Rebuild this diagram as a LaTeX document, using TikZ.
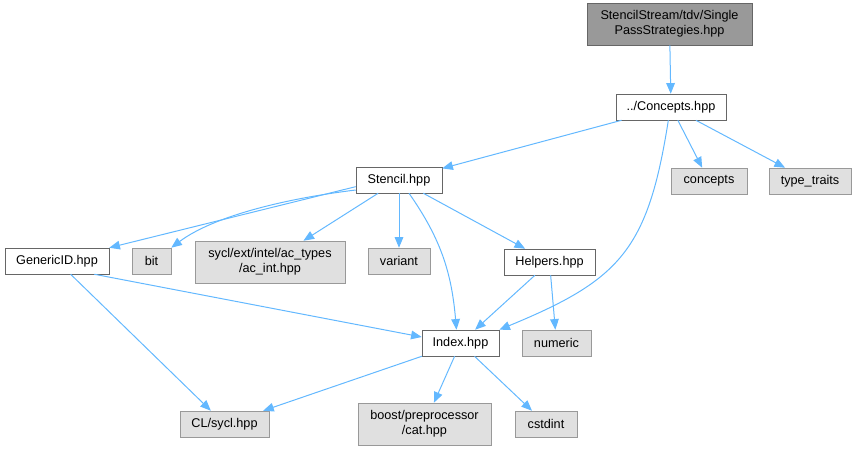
\documentclass[tikz,border=0pt]{standalone}
\usepackage{fontspec}
\setmainfont{Liberation Sans}
\usetikzlibrary{arrows.meta}
\usepackage{xcolor}
\definecolor{edgeblue}{HTML}{63B8FF}
\definecolor{boxgray}{HTML}{E0E0E0}
\definecolor{maingray}{HTML}{999999}

\begin{document}
\begin{tikzpicture}[x=0.75pt, y=-0.75pt,
    font=\fontsize{9.5}{11.5}\selectfont,
    file/.style={draw=black!60, fill=white, minimum height=19.5pt, inner sep=1pt, align=center},
    sys/.style={draw=black!40, fill=boxgray, minimum height=19.5pt, inner sep=1pt, align=center},
    inc/.style={-{Triangle[length=8pt, width=6.5pt]}, draw=edgeblue, line width=0.75pt}]
    \useasboundingbox (0,0) rectangle (854,450);

    \node[file, fill=maingray, minimum width=123.75pt, minimum height=31.5pt] (single) at (669.5,24) {StencilStream/tdv/Single\\PassStrategies.hpp};
    \node[file, minimum width=82.5pt] (concepts) at (671,107) {../Concepts.hpp};
    \node[file, minimum width=64.5pt] (stencil) at (399,180) {Stencil.hpp};
    \node[sys, minimum width=57pt] (stdconcepts) at (709,181) {concepts};
    \node[sys, minimum width=61.5pt] (typetraits) at (810,181) {type\_traits};
    \node[file, minimum width=78pt] (genericid) at (57,261) {GenericID.hpp};
    \node[sys, minimum width=29.25pt] (bit) at (151.5,261) {bit};
    \node[sys, minimum width=112.5pt, minimum height=31.5pt] (acint) at (270,262) {sycl/ext/intel/ac\_types\\/ac\_int.hpp};
    \node[sys, minimum width=46.5pt] (variant) at (399,261) {variant};
    \node[file, minimum width=68.25pt] (helpers) at (549.5,262) {Helpers.hpp};
    \node[file, minimum width=57.75pt] (index) at (460.5,343) {Index.hpp};
    \node[sys, minimum width=51.75pt] (numeric) at (556.5,343) {numeric};
    \node[sys, minimum width=66.75pt] (clsycl) at (224.5,424) {CL/sycl.hpp};
    \node[sys, minimum width=99.75pt, minimum height=31.5pt] (boostcat) at (424.5,424) {boost/preprocessor\\/cat.hpp};
    \node[sys, minimum width=46.5pt] (cstdint) at (546,424) {cstdint};

    \draw[inc] (single) -- (concepts);
    \draw[inc] (concepts) -- (stencil);
    \draw[inc] (concepts) -- (stdconcepts);
    \draw[inc] (concepts) -- (typetraits);
    \draw[inc] ([xshift=-2pt]concepts.south) .. controls (648,250) and (620,280) .. (index.north east);
    \draw[inc] ([yshift=-5pt]stencil.west) -- (genericid.north east);
    \draw[inc] ([yshift=-7.5pt]stencil.west) .. controls (290,198) and (215,215) .. (bit.north east);
    \draw[inc] (stencil) -- (acint);
    \draw[inc] (stencil) -- (variant);
    \draw[inc] ([xshift=7.5pt]stencil.south) to[out=-55, in=95] ([xshift=-3pt]index.north);
    \draw[inc] (stencil) -- (helpers);
    \draw[inc] (genericid) -- (clsycl);
    \draw[inc] ([xshift=28pt]genericid.south) -- ([yshift=4.5pt]index.west);
    \draw[inc] (helpers) -- (index);
    \draw[inc] (helpers) -- (numeric);
    \draw[inc] (index) -- (clsycl);
    \draw[inc] (index) -- (boostcat);
    \draw[inc] (index) -- (cstdint);
\end{tikzpicture}
\end{document}
